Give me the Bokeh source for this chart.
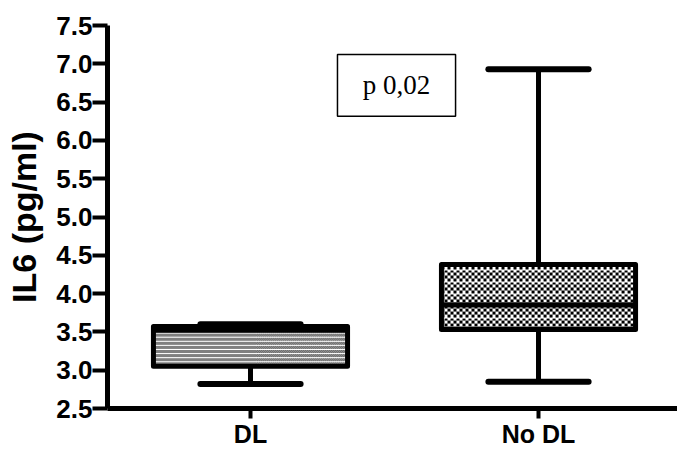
import numpy as np
from bokeh.plotting import figure
from bokeh.models import Range1d, FixedTicker, BoxAnnotation, Label, ColumnDataSource
from bokeh.embed import file_html
from bokeh.resources import INLINE

groups = ["DL", "No DL"]
positions = [1, 2]
whisker_low = [2.82, 2.85]
q1 = [3.05, 3.53]
median = [3.52, 3.85]
q3 = [3.57, 4.38]
whisker_high = [3.60, 6.93]
y_ticks = [2.5, 3.0, 3.5, 4.0, 4.5, 5.0, 5.5, 6.0, 6.5, 7.0, 7.5]
texture_cell_px = [1, 3]
annotation_text = "p 0,02"

box_half = 0.337
cap_half = 0.174

W, H = 677, 450
BL, BR, BT, BB = 107, 0, 25, 41
x0r, x1r = 0.5035, 2.4826
y0r, y1r = 2.5, 7.5
px_per_x = (W - BL - BR) / (x1r - x0r)
px_per_y = (H - BT - BB) / (y1r - y0r)

p = figure(width=W, height=H, output_backend="svg", toolbar_location=None,
           x_range=Range1d(x0r, x1r), y_range=Range1d(y0r, y1r),
           min_border_left=BL, min_border_right=BR, min_border_top=BT, min_border_bottom=BB)
p.outline_line_color = None
p.xgrid.visible = False
p.ygrid.visible = False
p.background_fill_color = "white"
p.border_fill_color = "white"

src = ColumnDataSource(dict(
    x=positions,
    q1=q1, q3=q3, med=median, lo=whisker_low, hi=whisker_high,
    cl=[v - cap_half for v in positions],
    cr=[v + cap_half for v in positions],
    ml=[v - box_half for v in positions],
    mr=[v + box_half for v in positions],
))


def checker_texture(w_px, h_px, cell):
    w_px, h_px = max(int(round(w_px)), 1), max(int(round(h_px)), 1)
    yy, xx = np.mgrid[0:h_px, 0:w_px]
    dark = ((xx // cell) + (yy // cell)) % 2 == 0
    if cell == 1:
        dark &= (yy % 4) != 0
    else:
        dark &= (yy % (4 * cell)) != (4 * cell - 1)
    img = np.empty((h_px, w_px), dtype=np.uint32)
    view = img.view(dtype=np.uint8).reshape((h_px, w_px, 4))
    view[..., 0] = np.where(dark, 0, 255)
    view[..., 1] = np.where(dark, 0, 255)
    view[..., 2] = np.where(dark, 0, 255)
    view[..., 3] = 255
    return img


# whiskers
p.segment(x0="x", y0="q3", x1="x", y1="hi", source=src, line_color="black", line_width=5)
p.segment(x0="x", y0="q1", x1="x", y1="lo", source=src, line_color="black", line_width=5)
p.segment(x0="cl", y0="hi", x1="cr", y1="hi", source=src, line_color="black", line_width=6, line_cap="round")
p.segment(x0="cl", y0="lo", x1="cr", y1="lo", source=src, line_color="black", line_width=6, line_cap="round")
# boxes with textured fill
for i, pos in enumerate(positions):
    dw = 2 * box_half
    dh = q3[i] - q1[i]
    tex = checker_texture(dw * px_per_x, dh * px_per_y, texture_cell_px[i])
    p.image_rgba(image=[tex], x=pos - box_half, y=q1[i], dw=dw, dh=dh)
p.quad(left="ml", right="mr", bottom="q1", top="q3", source=src,
       fill_color=None, line_color="black", line_width=5, line_join="round")
# median
p.segment(x0="ml", y0="med", x1="mr", y1="med", source=src, line_color="black", line_width=5)

# p-value box
p.add_layout(BoxAnnotation(left=1.302, right=1.712, bottom=6.315, top=7.12,
                           fill_color=None, line_color="black", line_width=1.5, line_alpha=1))
p.add_layout(Label(x=1.507, y=6.72, text=annotation_text, text_align="center", text_baseline="middle",
                   text_font="Liberation Serif", text_font_size="27px", text_color="black"))

# axes
ya = p.yaxis[0]
ya.ticker = FixedTicker(ticks=y_ticks)
ya.major_label_overrides = {t: f"{t:.1f}" for t in y_ticks}
ya.minor_tick_line_color = None
ya.axis_line_width = 5
ya.axis_line_color = "black"
ya.major_tick_line_width = 4
ya.major_tick_out = 15
ya.major_tick_in = 0
ya.major_label_standoff = 0
ya.major_label_text_font = "Liberation Sans"
ya.major_label_text_font_style = "bold"
ya.major_label_text_font_size = "26px"
ya.major_label_text_color = "black"
ya.axis_label = "IL6 (pg/ml)"
ya.axis_label_text_font = "Liberation Sans"
ya.axis_label_text_font_style = "bold"
ya.axis_label_text_font_size = "34px"
ya.axis_label_text_color = "black"
ya.axis_label_standoff = 10

xa = p.xaxis[0]
xa.ticker = FixedTicker(ticks=positions)
xa.major_label_overrides = {pos: g for pos, g in zip(positions, groups)}
xa.minor_tick_line_color = None
xa.axis_line_width = 5
xa.axis_line_color = "black"
xa.major_tick_line_width = 4
xa.major_tick_out = 10
xa.major_tick_in = 0
xa.major_label_standoff = 1
xa.major_label_text_font = "Liberation Sans"
xa.major_label_text_font_style = "bold"
xa.major_label_text_font_size = "25px"
xa.major_label_text_color = "black"

open("out.html", "w").write(file_html(p, INLINE))
